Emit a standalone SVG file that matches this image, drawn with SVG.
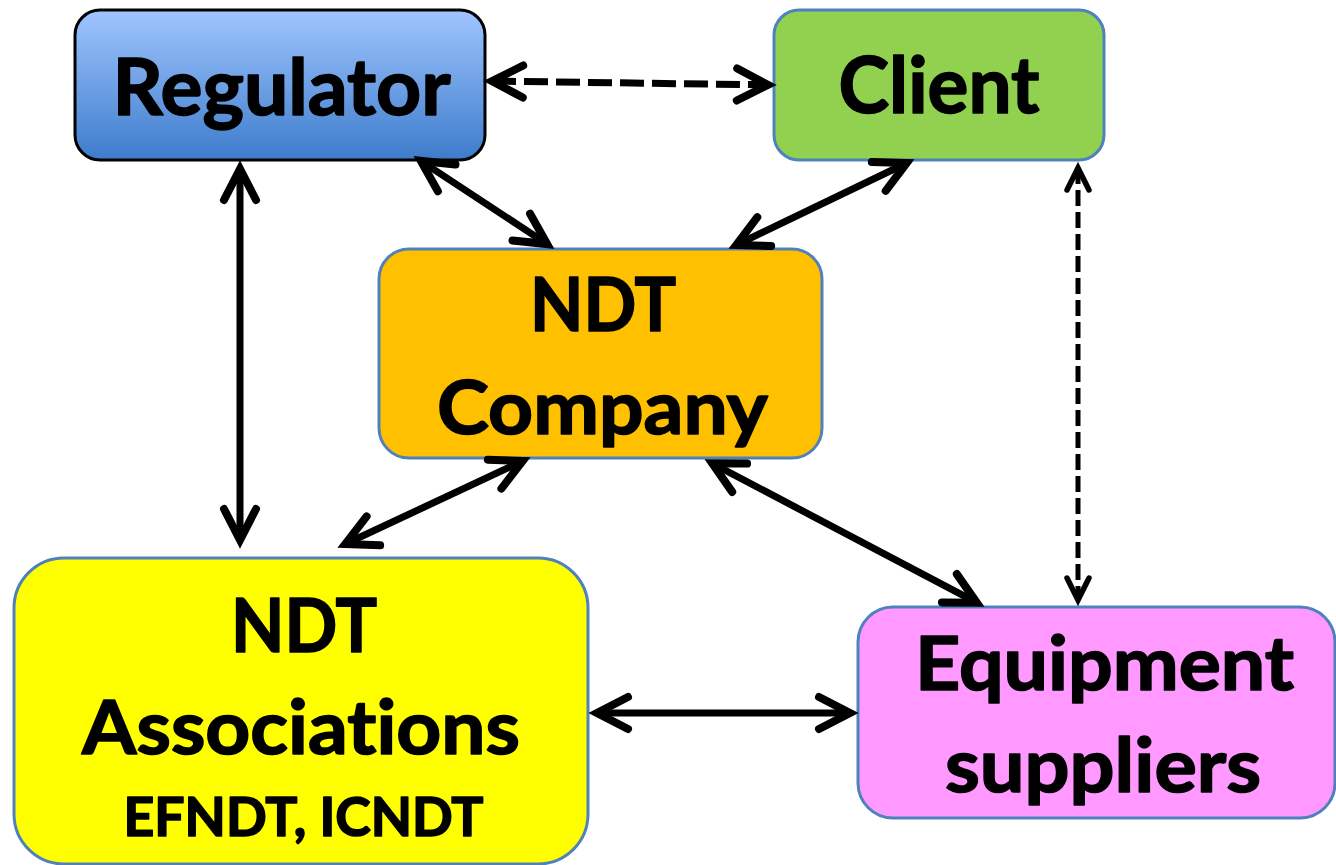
<svg xmlns="http://www.w3.org/2000/svg" width="1336" height="865" viewBox="0 0 1336 865">
<style>
.lbl{font-family:Lato,"Liberation Sans",Arial,sans-serif;font-weight:700;fill:#000;stroke:#000;stroke-width:1.6;stroke-linejoin:round;text-anchor:middle;font-variant-ligatures:none;font-feature-settings:"liga" 0}
.box{stroke:#4f81bd;stroke-width:3}
.conn{fill:none;stroke:#000;stroke-width:7}
.dash1{stroke-width:7;stroke-dasharray:24 8}
.dash2{stroke-width:5;stroke-dasharray:16 6}
.head{fill:none;stroke:#000;stroke-dasharray:none;stroke-linecap:round;stroke-linejoin:miter}
</style>
<defs>
<linearGradient id="regGrad" x1="0" y1="0" x2="0" y2="1">
<stop offset="0" stop-color="#a0c5ff"/>
<stop offset="1" stop-color="#3d7ccb"/>
</linearGradient>
<marker id="ah" viewBox="-40 -22 52 44" refX="0" refY="0" markerWidth="52" markerHeight="44" markerUnits="userSpaceOnUse" orient="auto-start-reverse" overflow="visible">
<path class="head" d="M-31,-16 L0,0 L-31,16" stroke-width="8"/>
</marker>
<marker id="ahs" viewBox="-30 -16 40 32" refX="0" refY="0" markerWidth="40" markerHeight="32" markerUnits="userSpaceOnUse" orient="auto-start-reverse" overflow="visible">
<path class="head" d="M-22,-11 L0,0 L-22,11" stroke-width="5.5"/>
</marker>
</defs>
<rect width="1336" height="865" fill="#fff"/>

<g id="regulator">
<rect x="75" y="10" width="410" height="150" rx="25" fill="url(#regGrad)" stroke="#000" stroke-width="3"/>
<text class="lbl" x="281.5" y="115" font-size="78" textLength="338" lengthAdjust="spacingAndGlyphs">Regulator</text>
</g>

<g id="client">
<rect class="box" x="774" y="10" width="330" height="150" rx="25" fill="#92d050"/>
<text class="lbl" x="939" y="113" font-size="78" textLength="201" lengthAdjust="spacingAndGlyphs">Client</text>
</g>

<g id="ndt-company">
<rect class="box" x="379" y="249" width="443" height="209" rx="30" fill="#ffc000"/>
<text class="lbl" x="603" y="331" font-size="74" textLength="146" lengthAdjust="spacingAndGlyphs">NDT</text>
<text class="lbl" x="602.5" y="434" font-size="74" textLength="331" lengthAdjust="spacingAndGlyphs">Company</text>
</g>

<g id="ndt-associations">
<rect class="box" x="14" y="558" width="574" height="306" rx="50" fill="#ffff00"/>
<text class="lbl" x="304" y="652" font-size="75" textLength="146" lengthAdjust="spacingAndGlyphs">NDT</text>
<text class="lbl" x="301" y="754" font-size="75" textLength="438" lengthAdjust="spacingAndGlyphs">Associations</text>
<text class="lbl" x="303.5" y="836" font-size="54" textLength="360" lengthAdjust="spacingAndGlyphs">EFNDT, ICNDT</text>
</g>

<g id="equipment-suppliers">
<rect class="box" x="858" y="607" width="477" height="211" rx="35" fill="#ff99ff"/>
<text class="lbl" x="1104.5" y="690" font-size="74" textLength="379" lengthAdjust="spacingAndGlyphs">Equipment</text>
<text class="lbl" x="1103" y="792" font-size="74" textLength="316" lengthAdjust="spacingAndGlyphs">suppliers</text>
</g>

<g id="connectors">
<line class="conn dash1" x1="492" y1="81.1" x2="768" y2="84.9" marker-start="url(#ah)" marker-end="url(#ah)"/>
<line class="conn" x1="420.8" y1="160.9" x2="547.2" y2="244.1" marker-start="url(#ah)" marker-end="url(#ah)"/>
<line class="conn" x1="906.7" y1="163" x2="736.3" y2="245" marker-start="url(#ah)" marker-end="url(#ah)"/>
<line class="conn" x1="240" y1="169" x2="240" y2="540" marker-start="url(#ah)" marker-end="url(#ah)"/>
<line class="conn" x1="522.7" y1="461" x2="345.3" y2="544" marker-start="url(#ah)" marker-end="url(#ah)"/>
<line class="conn" x1="712.2" y1="463.3" x2="976.8" y2="602.7" marker-start="url(#ah)" marker-end="url(#ah)"/>
<line class="conn" x1="597" y1="713" x2="850" y2="713" marker-start="url(#ah)" marker-end="url(#ah)"/>
<line class="conn dash2" x1="1078" y1="168" x2="1078" y2="600" marker-start="url(#ahs)" marker-end="url(#ahs)"/>
</g>
</svg>
